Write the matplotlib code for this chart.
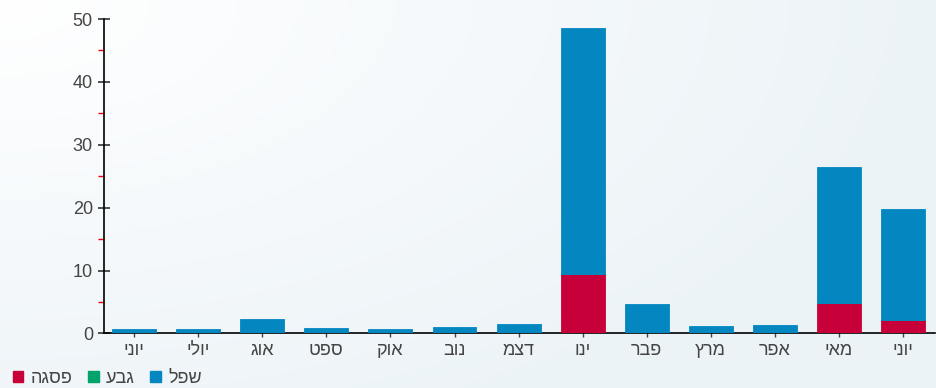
import numpy as np
import matplotlib
matplotlib.use('Agg')
import matplotlib.pyplot as plt
from matplotlib.patches import Patch
from matplotlib.ticker import MultipleLocator

plt.rcParams['font.family'] = ['Liberation Sans', 'DejaVu Sans']

# months, oldest on the left
months = ['יוני', 'יולי', 'אוג', 'ספט', 'אוק', 'נוב', 'דצמ',
          'ינו', 'פבר', 'מרץ', 'אפר', 'מאי', 'יוני']
# stacked series (bottom to top)
peak = [0, 0, 0, 0, 0, 0, 0, 9.4, 0, 0, 0, 4.8, 2.1]        # פסגה
hill = [0, 0, 0, 0, 0, 0, 0, 0, 0, 0, 0, 0, 0]              # גבע
low = [0.75, 0.7, 2.3, 0.95, 0.75, 1.05, 1.5, 39.1, 4.65, 1.2, 1.3, 21.7, 17.7]  # שפל
seriesNames = ['פסגה', 'גבע', 'שפל']
seriesColors = ['#c8003a', '#00a36c', '#0487c1']


def rtl(text):
    # matplotlib has no bidi support, so flip hebrew for display
    return text[::-1]


fig = plt.figure(figsize=(9.37, 3.88), dpi=100)

# soft background wash
bg = fig.add_axes([0, 0, 1, 1], zorder=-10)
yy, xx = np.mgrid[0:1:200j, 0:1:400j]
t = np.clip(np.sqrt((xx * 1.1) ** 2 + (yy * 0.9) ** 2) * 0.9, 0, 1)
c0 = np.array([1.0, 1.0, 1.0])
c1 = np.array([0.925, 0.953, 0.969])
img = c0 + (c1 - c0) * t[..., None]
bg.imshow(img, aspect='auto', extent=[0, 1, 0, 1], origin='upper')
bg.axis('off')

ax = fig.add_axes([0.111, 0.1405, 0.887, 0.8105])
ax.patch.set_alpha(0)

x = np.arange(len(months))
width = 0.685
bottom = np.zeros(len(months))
for vals, color in zip([peak, hill, low], seriesColors):
    ax.bar(x, vals, width, bottom=bottom, color=color,
           edgecolor=color, linewidth=0.6, zorder=3)
    bottom += np.array(vals)

ax.set_xlim(-0.47, 12.5)
ax.set_ylim(0, 50)

for side in ['top', 'right']:
    ax.spines[side].set_visible(False)
ax.spines['left'].set_linewidth(1.2)
ax.spines['bottom'].set_linewidth(1.2)

ax.yaxis.set_major_locator(MultipleLocator(10))
ax.yaxis.set_minor_locator(MultipleLocator(5))
ax.tick_params(axis='y', which='major', direction='inout', length=8,
               width=1.1, color='#222222', labelsize=13,
               labelcolor='#444444', pad=4)
ax.tick_params(axis='y', which='minor', direction='out', length=4,
               width=1.0, color='#e8000b')

ax.set_xticks(x)
ax.set_xticklabels([rtl(m) for m in months])
ax.tick_params(axis='x', direction='out', length=3, width=1.0,
               color='#444444', labelsize=13, labelcolor='#444444', pad=3)

handles = [Patch(facecolor=c, edgecolor=c) for c in seriesColors]
fig.legend(handles, [rtl(n) for n in seriesNames], loc='lower left',
           bbox_to_anchor=(0.0, -0.03), ncol=3, frameon=False,
           fontsize=13, handlelength=0.6, handleheight=0.6,
           handletextpad=0.4, columnspacing=0.85, borderpad=0.2,
           labelcolor='#444444')

fig.savefig('out.png', dpi=100)
